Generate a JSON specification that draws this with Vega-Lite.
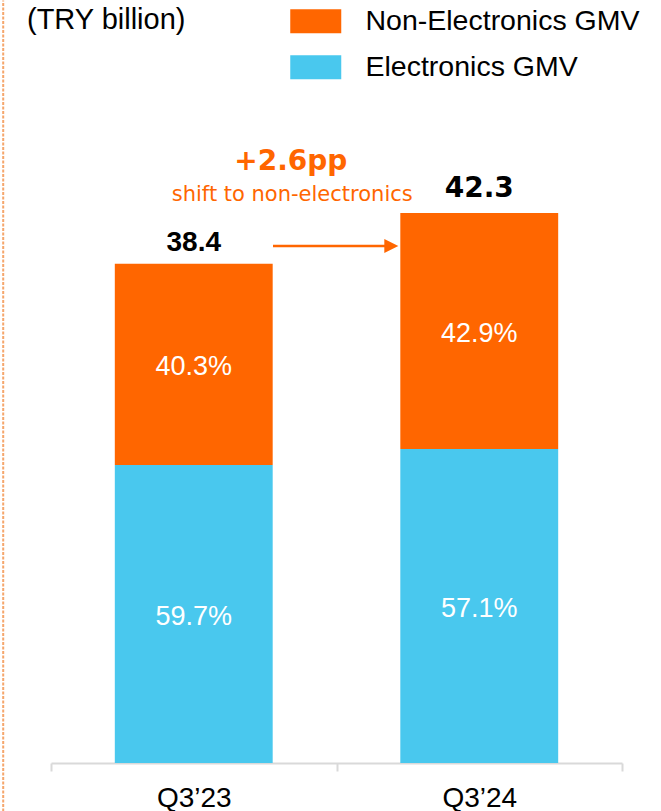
{
  "$schema": "https://vega.github.io/schema/vega-lite/v6.json",
  "autosize": {"type": "none"},
  "padding": {"left": 51, "right": 39, "top": 0, "bottom": 0},
  "width": 571,
  "height": 811,
  "background": "white",
  "title": {"text": "(TRY billion)", "anchor": "start", "frame": "group", "orient": "top", "fontSize": 29, "font": "Liberation Sans", "fontWeight": "normal", "color": "#000000", "baseline": "alphabetic", "offset": 0, "dx": -24, "dy": 58},
  "data": {"values": [
    {"quarter": "Q3’23", "segment": "Electronics GMV", "value": 22.92, "pct": "59.7%"},
    {"quarter": "Q3’23", "segment": "Non-Electronics GMV", "value": 15.48, "pct": "40.3%"},
    {"quarter": "Q3’24", "segment": "Electronics GMV", "value": 24.15, "pct": "57.1%"},
    {"quarter": "Q3’24", "segment": "Non-Electronics GMV", "value": 18.15, "pct": "42.9%"}
  ]},
  "transform": [
    {"stack": "value", "groupby": ["quarter"], "sort": [{"field": "segment", "order": "ascending"}], "as": ["y0", "y1"]},
    {"calculate": "(datum.y0 + datum.y1) / 2", "as": "mid"}
  ],
  "encoding": {
    "x": {"field": "quarter", "type": "nominal", "sort": ["Q3’23", "Q3’24"],
      "scale": {"paddingInner": 0, "paddingOuter": 0},
      "axis": {"title": null, "orient": "bottom", "offset": -48, "labelAngle": 0, "domainColor": "#d9d9d9", "domainWidth": 2, "tickColor": "#d9d9d9", "tickWidth": 2, "tickSize": 8, "tickBand": "extent", "labelFont": "Liberation Sans", "labelFontSize": 28, "labelColor": "#000000", "labelBaseline": "alphabetic", "labelPadding": 35}}
  },
  "layer": [
    {
      "mark": {"type": "bar", "width": {"band": 0.553}},
      "encoding": {
        "y": {"field": "y1", "type": "quantitative", "scale": {"domain": [-3.6923, 58.6923], "nice": false, "zero": false},
          "axis": {"title": null, "orient": "left", "offset": 48.3, "labels": false, "ticks": false, "grid": false, "domainColor": "#F5A66C", "domainDash": [3, 1.5], "domainWidth": 2}},
        "y2": {"field": "y0"},
        "color": {"field": "segment", "type": "nominal",
          "scale": {"domain": ["Non-Electronics GMV", "Electronics GMV"], "range": ["#FF6600", "#49C8EE"]},
          "legend": {"title": null, "orient": "none", "legendX": 250.5, "legendY": 7, "direction": "vertical", "padding": 0,
            "symbolType": "M-2.125,-1H2.125V1H-2.125Z", "symbolSize": 576, "symbolStrokeWidth": 0, "symbolOpacity": 1,
            "labelFont": "Liberation Sans", "labelFontSize": 28.5, "labelColor": "#000000", "labelOffset": 35.5, "rowPadding": 17, "labelLimit": 400}}
      }
    },
    {
      "mark": {"type": "text", "font": "Liberation Sans", "fontSize": 27, "color": "white", "baseline": "middle", "align": "center", "dy": 3},
      "encoding": {
        "y": {"field": "mid", "type": "quantitative"},
        "text": {"field": "pct"}
      }
    },
    {
      "data": {"values": [{"quarter": "Q3’23", "total": 38.4}]},
      "transform": [],
      "mark": {"type": "text", "font": "Liberation Sans", "fontSize": 28, "fontWeight": "bold", "color": "#000000", "baseline": "alphabetic", "align": "center", "dy": -12.5},
      "encoding": {
        "y": {"field": "total", "type": "quantitative"},
        "text": {"field": "total", "format": ".1f"}
      }
    },
    {
      "data": {"values": [{"quarter": "Q3’24", "total": 42.3}]},
      "transform": [],
      "mark": {"type": "text", "font": "DejaVu Sans", "fontSize": 28, "fontWeight": "bold", "color": "#000000", "baseline": "alphabetic", "align": "center", "dy": -16.4},
      "encoding": {
        "y": {"field": "total", "type": "quantitative"},
        "text": {"field": "total", "format": ".1f"}
      }
    },
    {
      "data": {"values": [{"note": "+2.6pp"}]},
      "transform": [],
      "mark": {"type": "text", "font": "DejaVu Sans", "fontSize": 28, "fontWeight": "bold", "color": "#FF6600", "baseline": "alphabetic", "align": "center"},
      "encoding": {
        "x": {"datum": "Q3’23", "bandPosition": 0.84},
        "y": {"datum": 45.615},
        "text": {"field": "note"}
      }
    },
    {
      "data": {"values": [{"note": "shift to non-electronics"}]},
      "transform": [],
      "mark": {"type": "text", "font": "DejaVu Sans", "fontSize": 21, "color": "#FF6600", "baseline": "alphabetic", "align": "center"},
      "encoding": {
        "x": {"datum": "Q3’23", "bandPosition": 0.845},
        "y": {"datum": 43.25},
        "text": {"field": "note"}
      }
    },
    {
      "data": {"values": [{"note": "arrow"}]},
      "transform": [],
      "mark": {"type": "rule", "color": "#FF6600", "strokeWidth": 2.5},
      "encoding": {
        "x": {"datum": "Q3’23", "bandPosition": 0.7776},
        "x2": {"datum": "Q3’24", "bandPosition": 0.19},
        "y": {"datum": 39.77}
      }
    },
    {
      "data": {"values": [{"note": "arrowhead"}]},
      "transform": [],
      "mark": {"type": "point", "shape": "M0,0L-2,-1L-2,1Z", "size": 196, "filled": true, "color": "#FF6600", "opacity": 1, "strokeWidth": 0},
      "encoding": {
        "x": {"datum": "Q3’24", "bandPosition": 0.2165},
        "y": {"datum": 39.77}
      }
    }
  ],
  "config": {"view": {"stroke": null}}
}
